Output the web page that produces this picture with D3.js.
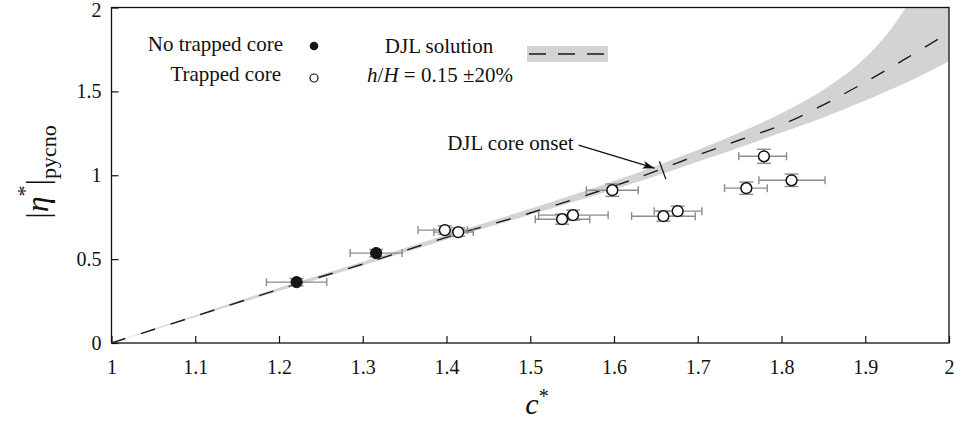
<!DOCTYPE html>
<html><head><meta charset="utf-8">
<script src="https://cdn.jsdelivr.net/npm/d3@7/dist/d3.min.js"></script>
<style>
body{margin:0;background:#fff}
svg{display:block;font-family:'Liberation Serif','DejaVu Serif',serif}
svg text{font-family:'Liberation Serif','DejaVu Serif',serif;fill:#111}
</style>
</head><body>
<svg id="chart" width="956" height="422"></svg>
<script>
// ---------- data ----------
const xTickValues = [1, 1.1, 1.2, 1.3, 1.4, 1.5, 1.6, 1.7, 1.8, 1.9, 2];
const xTickLabels = ["1", "1.1", "1.2", "1.3", "1.4", "1.5", "1.6", "1.7", "1.8", "1.9", "2"];
const yTickValues = [0, 0.5, 1, 1.5, 2];
const yTickLabels = ["0", "0.5", "1", "1.5", "2"];

// DJL solution (h/H = 0.15)
const djlC    = [1.0, 1.1, 1.2, 1.3, 1.4, 1.5, 1.6, 1.65, 1.7, 1.75, 1.8, 1.85, 1.9, 1.95, 2.0];
const djlEta  = [0, 0.16, 0.32, 0.47, 0.63, 0.775, 0.935, 1.025, 1.12, 1.21, 1.30, 1.42, 1.555, 1.70, 1.85];
// ±20% band
const bandC    = [1.0, 1.1, 1.2, 1.3, 1.4, 1.5, 1.6, 1.65, 1.7, 1.75, 1.8, 1.85, 1.9, 1.925, 1.95, 1.975, 2.0];
const bandLow  = [0, 0.155, 0.31, 0.462, 0.617, 0.765, 0.915, 0.995, 1.08, 1.165, 1.255, 1.345, 1.445, 1.50, 1.555, 1.615, 1.68];
const bandHigh = [0, 0.165, 0.33, 0.485, 0.645, 0.80, 0.965, 1.055, 1.15, 1.255, 1.37, 1.51, 1.70, 1.835, 2.01, 2.22, 2.48];

// No trapped core (filled)
const noCoreC    = [1.221, 1.316];
const noCoreEta  = [0.363, 0.536];
const noCoreXLo  = [1.185, 1.285];
const noCoreXHi  = [1.257, 1.347];
const noCoreYErr = [0.022, 0.022];

// Trapped core (open)
const coreC    = [1.398, 1.414, 1.538, 1.551, 1.598, 1.659, 1.676, 1.758, 1.779, 1.812];
const coreEta  = [0.673, 0.661, 0.738, 0.762, 0.911, 0.756, 0.786, 0.923, 1.113, 0.970];
const coreXLo  = [1.366, 1.385, 1.506, 1.510, 1.567, 1.621, 1.648, 1.732, 1.749, 1.773];
const coreXHi  = [1.425, 1.432, 1.571, 1.593, 1.629, 1.697, 1.705, 1.783, 1.806, 1.852];
const coreYErr = [0.025, 0.025, 0.03, 0.03, 0.037, 0.03, 0.03, 0.037, 0.042, 0.037];

// DJL core onset annotation
const onsetC = 1.658;
const onsetEta = 1.03;
const onsetLabel = "DJL core onset";

// ---------- layout ----------
const FONT = "'Liberation Serif','DejaVu Serif',serif";
const svg = d3.select("#chart");
const L = 111.5, R = 949, T = 7.5, B = 343;
const x = d3.scaleLinear().domain([1, 2]).range([L, R]);
const y = d3.scaleLinear().domain([0, 2]).range([B, T]);

const bandColor = "#d3d3d5";
const errColor = "#8c8c8c";

const defs = svg.append("defs");
defs.append("clipPath").attr("id", "clip")
  .append("rect").attr("x", L).attr("y", T).attr("width", R - L).attr("height", B - T);

const plot = svg.append("g").attr("clip-path", "url(#clip)");

// band
const bandData = bandC.map((c, i) => ({c, lo: bandLow[i], hi: bandHigh[i]}));
plot.append("path").datum(bandData)
  .attr("fill", bandColor)
  .attr("d", d3.area().x(d => x(d.c)).y0(d => y(d.lo)).y1(d => y(d.hi)).curve(d3.curveMonotoneX));

// dashed DJL line
const lineData = djlC.map((c, i) => ({c, e: djlEta[i]}));
plot.append("path").datum(lineData)
  .attr("fill", "none").attr("stroke", "#1a1a1a").attr("stroke-width", 1.4)
  .attr("stroke-dasharray", "15,16")
  .attr("d", d3.line().x(d => x(d.c)).y(d => y(d.e)).curve(d3.curveCatmullRom));

// onset tick (perpendicular to curve) and arrow
{
  const px = x(onsetC), py = y(onsetEta);
  const slope = 1.8 * (y(0) - y(1)) / (x(2) - x(1));
  const ang = Math.atan(slope);
  const dx = Math.sin(ang) * 9.5, dy = Math.cos(ang) * 9.5;
  svg.append("line").attr("x1", px - dx).attr("y1", py - dy).attr("x2", px + dx).attr("y2", py + dy)
    .attr("stroke", "#111").attr("stroke-width", 1.3);
  defs.append("marker").attr("id", "arrow")
    .attr("viewBox", "0 0 12 8").attr("refX", 12).attr("refY", 4)
    .attr("markerWidth", 12).attr("markerHeight", 8).attr("markerUnits", "userSpaceOnUse")
    .attr("orient", "auto")
    .append("path").attr("d", "M0,0 L12,4 L0,8 L3,4 Z").attr("fill", "#111");
  svg.append("line").attr("x1", px - 84).attr("y1", py - 25).attr("x2", px - 8).attr("y2", py - 2)
    .attr("stroke", "#111").attr("stroke-width", 1.3).attr("marker-end", "url(#arrow)");
  svg.append("text").attr("x", px - 89).attr("y", py - 20).attr("text-anchor", "end")
    .style("font-family", FONT).attr("font-size", 21).text(onsetLabel);
}

// error bars
function errorBars(cs, es, xlo, xhi, yerr) {
  const g = svg.append("g").attr("stroke", errColor).attr("stroke-width", 1.4).attr("fill", "none");
  cs.forEach((c, i) => {
    const cy = y(es[i]);
    g.append("line").attr("x1", x(xlo[i])).attr("x2", x(xhi[i])).attr("y1", cy).attr("y2", cy);
    g.append("line").attr("x1", x(xlo[i])).attr("x2", x(xlo[i])).attr("y1", cy - 4).attr("y2", cy + 4);
    g.append("line").attr("x1", x(xhi[i])).attr("x2", x(xhi[i])).attr("y1", cy - 4).attr("y2", cy + 4);
    const y1 = y(es[i] + yerr[i]), y2 = y(es[i] - yerr[i]);
    g.append("line").attr("x1", x(c)).attr("x2", x(c)).attr("y1", y1).attr("y2", y2);
    g.append("line").attr("x1", x(c) - 7).attr("x2", x(c) + 7).attr("y1", y1).attr("y2", y1);
    g.append("line").attr("x1", x(c) - 7).attr("x2", x(c) + 7).attr("y1", y2).attr("y2", y2);
  });
}
errorBars(noCoreC, noCoreEta, noCoreXLo, noCoreXHi, noCoreYErr);
errorBars(coreC, coreEta, coreXLo, coreXHi, coreYErr);

// points
svg.append("g").selectAll("circle").data(noCoreC).join("circle")
  .attr("cx", d => x(d)).attr("cy", (d, i) => y(noCoreEta[i])).attr("r", 5.6)
  .attr("fill", "#161616").attr("stroke", "#161616").attr("stroke-width", 1);
svg.append("g").selectAll("circle").data(coreC).join("circle")
  .attr("cx", d => x(d)).attr("cy", (d, i) => y(coreEta[i])).attr("r", 5.4)
  .attr("fill", "#fff").attr("stroke", "#111").attr("stroke-width", 1.5);

// frame
svg.append("rect").attr("x", L).attr("y", T).attr("width", R - L).attr("height", B - T)
  .attr("fill", "none").attr("stroke", "#111").attr("stroke-width", 1.3);

// axes
const xAxis = d3.axisBottom(x).tickValues(xTickValues)
  .tickFormat((d, i) => xTickLabels[i]).tickSizeInner(-7).tickSizeOuter(0).tickPadding(17);
const gx = svg.append("g").attr("transform", `translate(0,${B})`).call(xAxis);
const yAxis = d3.axisLeft(y).tickValues(yTickValues)
  .tickFormat((d, i) => yTickLabels[i]).tickSizeInner(-7).tickSizeOuter(0).tickPadding(10);
const gy = svg.append("g").attr("transform", `translate(${L},0)`).call(yAxis);
[gx, gy].forEach(g => {
  g.attr("font-family", null).attr("font-size", null);
  g.select(".domain").remove();
  g.selectAll(".tick line").attr("stroke", "#111").attr("stroke-width", 1.2);
  g.selectAll(".tick text").style("font-family", FONT).attr("font-size", 20).attr("fill", "#111");
});
gy.selectAll(".tick text").filter(d => d === 2).attr("dy", "0.45em");

// axis titles
const xt = svg.append("text").attr("x", 537).attr("y", 414).attr("text-anchor", "middle")
  .style("font-family", FONT).attr("font-size", 30);
xt.append("tspan").attr("font-style", "italic").text("c");
xt.append("tspan").attr("font-size", 20).attr("dy", -11).text("*");

const yt = svg.append("text").attr("transform", "translate(48,172) rotate(-90)")
  .attr("text-anchor", "middle").style("font-family", FONT).attr("font-size", 32);
yt.append("tspan").text("|");
yt.append("tspan").attr("font-style", "italic").text("η");
yt.append("tspan").attr("font-size", 22).attr("dy", -16).text("*");
yt.append("tspan").attr("dy", 16).text("|");
yt.append("tspan").attr("font-size", 22).attr("dy", 8).text("pycno");

// legend
const leg = svg.append("g").style("font-family", FONT).attr("font-size", 21);
leg.append("text").attr("x", 283).attr("y", 51).attr("text-anchor", "end").text("No trapped core");
leg.append("text").attr("x", 281).attr("y", 81).attr("text-anchor", "end").text("Trapped core");
leg.append("circle").attr("cx", 314).attr("cy", 46).attr("r", 4.3).attr("fill", "#161616");
leg.append("circle").attr("cx", 314).attr("cy", 78).attr("r", 4).attr("fill", "#fff").attr("stroke", "#111").attr("stroke-width", 1.2);
leg.append("text").attr("x", 439).attr("y", 53).attr("text-anchor", "middle").text("DJL solution");
const ht = leg.append("text").attr("x", 440).attr("y", 82).attr("text-anchor", "middle");
ht.append("tspan").attr("font-style", "italic").text("h");
ht.append("tspan").text("/");
ht.append("tspan").attr("font-style", "italic").text("H");
ht.append("tspan").text(" = 0.15 ±20%");
leg.append("rect").attr("x", 527).attr("y", 46).attr("width", 81).attr("height", 16).attr("fill", bandColor);
leg.append("line").attr("x1", 529).attr("x2", 608).attr("y1", 54).attr("y2", 54)
  .attr("stroke", "#1a1a1a").attr("stroke-width", 1.4).attr("stroke-dasharray", "17,12");
</script>
</body></html>
